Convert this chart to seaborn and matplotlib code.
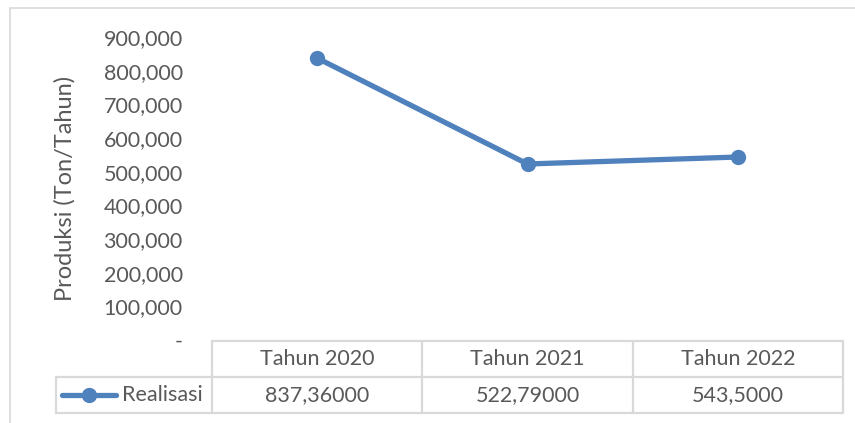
import numpy as np
import pandas as pd
import matplotlib
matplotlib.use("Agg")
import matplotlib.pyplot as plt
from matplotlib.lines import Line2D
from matplotlib.patches import Rectangle
import seaborn as sb

# data
tahun = ["Tahun 2020", "Tahun 2021", "Tahun 2022"]
realisasi = [837360, 522790, 543500]
label_tabel = ["837,36000", "522,79000", "543,5000"]
seri = "Realisasi"
y_ticks = [0, 100000, 200000, 300000, 400000, 500000, 600000, 700000, 800000, 900000]

sb.set_style("white")
plt.rcParams["font.family"] = ["Lato", "DejaVu Sans"]

biru = "#4f81bd"
abu = "#595959"
garis = "#d9d9d9"
fs = 15.5

W, H = 855, 423
fig = plt.figure(figsize=(W / 100, H / 100), dpi=100)

def fx(px):
    return px / W

def fy(py):
    return 1 - py / H

# chart border
fig.patches.append(Rectangle((fx(10), fy(440)), fx(900), fy(8) - fy(440),
                             transform=fig.transFigure, fill=False,
                             edgecolor=garis, linewidth=1.2))

ax = fig.add_axes([fx(212), fy(340), fx(843) - fx(212), fy(37) - fy(340)])
df = pd.DataFrame({"Tahun": tahun, "Produksi": realisasi})
sb.lineplot(data=df, x="Tahun", y="Produksi", ax=ax, color=biru, linewidth=3.8,
            marker="o", markersize=11, markeredgewidth=0)
ax.set_xlim(-0.5, len(tahun) - 0.5)
ax.set_ylim(0, 900000)
ax.set_yticks(y_ticks)
ax.set_yticklabels(["-" if v == 0 else f"{v:,}" for v in y_ticks])
ax.tick_params(axis="y", length=0, pad=21, labelsize=fs, labelcolor=abu)
ax.set_xticks([])
ax.set_xlabel("")
ax.set_ylabel("Produksi (Ton/Tahun)", fontsize=17, color=abu)
ax.yaxis.set_label_coords((76 - 212) / 631, 0.5)
for s in ax.spines.values():
    s.set_visible(False)

# data table
def hline(y, x0, x1):
    fig.add_artist(Line2D([fx(x0), fx(x1)], [fy(y), fy(y)], color=garis, lw=1.6))

def vline(x, y0, y1):
    fig.add_artist(Line2D([fx(x), fx(x)], [fy(y0), fy(y1)], color=garis, lw=1.6))

x_left, x_right = 212, 843
y_top, y_mid, y_bot = 341, 377, 413
col_w = (x_right - x_left) / len(tahun)
hline(y_top, x_left, x_right)
hline(y_mid, 56, x_right)
hline(y_bot, 56, x_right)
vline(56, y_mid, y_bot)
for i in range(len(tahun) + 1):
    vline(x_left + i * col_w, y_top, y_bot)
for i, (t, v) in enumerate(zip(tahun, label_tabel)):
    cx = x_left + (i + 0.5) * col_w
    fig.text(fx(cx), fy((y_top + y_mid) / 2), t, ha="center", va="center",
             fontsize=fs, color=abu)
    fig.text(fx(cx), fy((y_mid + y_bot) / 2), v, ha="center", va="center",
             fontsize=fs, color=abu)

# legend key
ly = (y_mid + y_bot) / 2
fig.add_artist(Line2D([fx(62), fx(116)], [fy(ly), fy(ly)], color=biru, lw=3.8))
fig.add_artist(Line2D([fx(89)], [fy(ly)], color=biru, marker="o",
                      markersize=11, markeredgewidth=0))
fig.text(fx(122), fy(ly), seri, ha="left", va="center", fontsize=fs, color=abu)

fig.savefig("out.png", dpi=100)
